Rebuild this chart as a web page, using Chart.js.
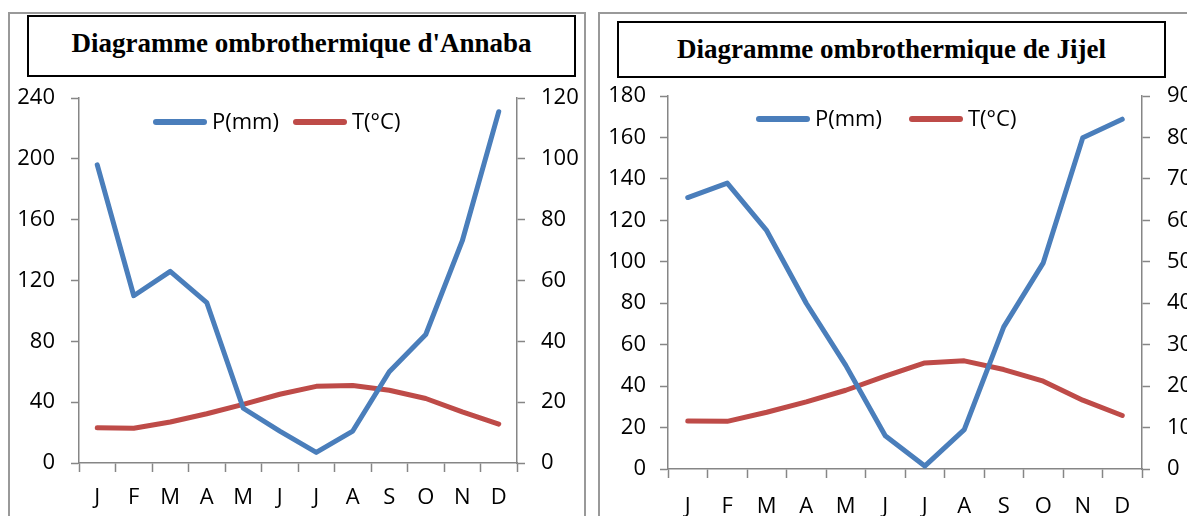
<!DOCTYPE html>
<html><head><meta charset="utf-8">
<script src="https://cdn.jsdelivr.net/npm/chart.js@4.4.1/dist/chart.umd.min.js"></script>
<style>
html,body{margin:0;padding:0;background:#fff;width:1187px;height:516px;overflow:hidden;position:relative}
.frame{position:absolute;border:2px solid #999;box-sizing:border-box}
.tbox{position:absolute;border:2px solid #000;box-sizing:border-box;display:flex;align-items:center;justify-content:center;font:bold 27px "Liberation Serif","Times New Roman",serif;color:#000;white-space:nowrap}
.cv{position:absolute}
</style></head>
<body>
<div class="frame" style="left:8px;top:12px;width:578px;height:530px"></div>
<div class="tbox" style="left:27px;top:15px;width:549px;height:62px;padding-bottom:6px">Diagramme ombrothermique d'Annaba</div>
<div class="cv" style="left:9px;top:80px;width:576px;height:436px"><canvas id="c1"></canvas></div>

<div class="frame" style="left:598px;top:12px;width:640px;height:530px"></div>
<div class="tbox" style="left:617px;top:21px;width:549px;height:57px">Diagramme ombrothermique de Jijel</div>
<div class="cv" style="left:600px;top:80px;width:620px;height:436px"><canvas id="c2"></canvas></div>

<script>
const months = ['J','F','M','A','M','J','J','A','S','O','N','D'];
const seriesNames = ['P(mm)','T(°C)'];
const annabaP = [196,110,126,105.5,36,21,7,21,60,84.5,146,231];
const annabaT = [11.6,11.4,13.5,16.2,19.3,22.6,25.2,25.5,23.9,21.2,16.8,12.8];
const jijelP = [131,138,115,80,50,16,1.4,19,68.6,99.5,159.8,168.8];
const jijelT = [11.6,11.5,13.7,16.2,19.0,22.4,25.6,26.1,24.0,21.2,16.6,12.9];
const annabaPTicks = {min:0,max:240,step:40};
const annabaTTicks = {min:0,max:120,step:20};
const jijelPTicks = {min:0,max:180,step:20};
const jijelTTicks = {min:0,max:90,step:10};

const BLUE = '#4A7EBB', RED = '#BE4B48', AXIS = '#868686';
const FONT = {family:'"Open Sans", sans-serif', size:22};

const inlineLegend = {
  id:'inlineLegend',
  afterDatasetsDraw(chart, args, opts){
    const ctx = chart.ctx, a = chart.chartArea;
    ctx.save();
    ctx.font = '22px "Open Sans", sans-serif';
    ctx.textBaseline = 'middle';
    const y = a.top + opts.y;
    chart.data.datasets.forEach((ds,i)=>{
      const x = a.left + opts.xs[i];
      ctx.strokeStyle = ds.borderColor; ctx.lineWidth = 6; ctx.lineCap = 'round';
      ctx.beginPath(); ctx.moveTo(x,y); ctx.lineTo(x+opts.len,y); ctx.stroke();
      ctx.fillStyle = '#000';
      ctx.fillText(ds.label, x+opts.textOff, y+1);
    });
    ctx.restore();
  }
};

function noPadV(s){ s.paddingTop = 0; s.paddingBottom = 0; }
function noPadH(s){ s.paddingLeft = 0; s.paddingRight = 0; }

function makeChart(id, P, T, pT, tT, g){
  return new Chart(document.getElementById(id), {
    type:'line',
    data:{labels:months, datasets:[
      {label:seriesNames[0], data:P, yAxisID:'yP', borderColor:BLUE, backgroundColor:BLUE, borderWidth:5, pointRadius:0, tension:0, borderJoinStyle:'round', borderCapStyle:'round'},
      {label:seriesNames[1], data:T, yAxisID:'yT', borderColor:RED, backgroundColor:RED, borderWidth:5, pointRadius:0, tension:0, borderJoinStyle:'round', borderCapStyle:'round'}
    ]},
    options:{
      responsive:true, maintainAspectRatio:false, animation:false,
      layout:{padding:{top:g.top,left:0,right:0,bottom:0}},
      plugins:{legend:{display:false}, tooltip:{enabled:false}, inlineLegend:g.legend},
      scales:{
        x:{offset:true,
          grid:{display:true, drawOnChartArea:false, drawTicks:true, tickLength:9, tickColor:AXIS, tickWidth:1.5, offset:true},
          border:{display:true,color:AXIS,width:1.5},
          ticks:{color:'#000', font:FONT, padding:g.xPad, maxRotation:0, autoSkip:false},
          afterFit(s){ s.height = g.xH; noPadH(s); }
        },
        yP:{position:'left', min:pT.min, max:pT.max,
          grid:{drawOnChartArea:false, drawTicks:true, tickLength:8, tickColor:AXIS, tickWidth:1.5},
          border:{display:true,color:AXIS,width:1.5},
          ticks:{stepSize:pT.step, color:'#000', font:FONT, padding:g.lPad},
          afterFit(s){ s.width = g.lW; noPadV(s); }
        },
        yT:{position:'right', min:tT.min, max:tT.max,
          grid:{drawOnChartArea:false, drawTicks:true, tickLength:8, tickColor:AXIS, tickWidth:1.5},
          border:{display:true,color:AXIS,width:1.5},
          ticks:{stepSize:tT.step, color:'#000', font:FONT, padding:g.rPad},
          afterFit(s){ s.width = g.rW; noPadV(s); }
        }
      }
    },
    plugins:[inlineLegend]
  });
}

makeChart('c1', annabaP, annabaT, annabaPTicks, annabaTTicks,
  {top:18, xH:53, lW:70, rW:68, xPad:13, lPad:16, rPad:16,
   legend:{xs:[77,217], y:24, len:48, textOff:56}});
makeChart('c2', jijelP, jijelT, jijelPTicks, jijelTTicks,
  {top:16, xH:47, lW:68, rW:78, xPad:16, lPad:14, rPad:17,
   legend:{xs:[91,244], y:23, len:48, textOff:56}});
</script>
</body></html>
